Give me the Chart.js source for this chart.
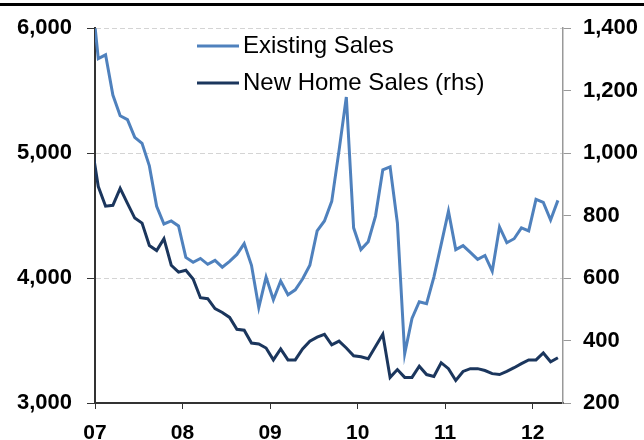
<!DOCTYPE html>
<html>
<head>
<meta charset="utf-8">
<script src="https://cdn.jsdelivr.net/npm/chart.js@4/dist/chart.umd.min.js"></script>
<style>
  html, body { margin: 0; padding: 0; background: #fff; }
  #wrap { position: relative; width: 644px; height: 440px; }
  #topRule { position: absolute; left: 0; top: 3px; width: 644px; height: 3px; background: #000; }
  canvas { position: absolute; left: 0; top: 0; }
</style>
</head>
<body>
<div id="wrap">
  <canvas id="salesChart" width="644" height="440"></canvas>
  <div id="topRule"></div>
</div>
<script>
// ---- data (monthly, starting Jan 2007) ----
const yearLabels = ["07", "08", "09", "10", "11", "12"];
const seriesNames = ["Existing Sales", "New Home Sales (rhs)"];

const existingSales = [
  6330, 5756, 5787, 5465, 5299, 5268, 5126, 5079, 4898, 4575, 4433, 4457,
  4417, 4165, 4126, 4157, 4110, 4142, 4087, 4134, 4189, 4276, 4102, 3764,
  4008, 3827, 3976, 3866, 3906, 3992, 4102, 4378, 4457, 4614, 5020, 5449,
  4402, 4228, 4291, 4496, 4866, 4890, 4441, 3394, 3677, 3811, 3795, 4008,
  4270, 4535, 4228, 4260, 4205, 4150, 4181, 4055, 4409, 4283, 4315, 4402,
  4378, 4630, 4606, 4465, 4622
];

const newHomeSales = [
  1040, 893, 830, 833, 887, 839, 792, 776, 704, 688, 726, 641,
  619, 625, 597, 537, 534, 502, 490, 474, 436, 433, 392, 389,
  376, 338, 373, 338, 338, 373, 398, 411, 420, 386, 398, 376,
  351, 348, 342, 381, 420, 282, 307, 282, 282, 318, 291, 285,
  329, 310, 272, 301, 310, 310, 304, 294, 291, 301, 313, 326,
  338, 338, 360, 332, 345
];

const FONT = "'Liberation Sans', Arial, sans-serif";
const toPoints = arr => arr.map((v, i) => ({ x: i, y: v }));

// legend drawn inside the plot, stacked vertically
const insideLegend = {
  id: "insideLegend",
  afterDraw(chart) {
    const ctx = chart.ctx;
    ctx.save();
    ctx.font = "24px " + FONT;
    ctx.textBaseline = "middle";
    ctx.fillStyle = "#000";
    chart.data.datasets.forEach((ds, i) => {
      const y = 46 + i * 37;
      ctx.strokeStyle = ds.borderColor;
      ctx.lineWidth = 3;
      ctx.beginPath();
      ctx.moveTo(197, y);
      ctx.lineTo(239, y);
      ctx.stroke();
      ctx.fillText(ds.label, 243, y);
    });
    ctx.restore();
  }
};

const ctx = document.getElementById("salesChart").getContext("2d");
new Chart(ctx, {
  type: "line",
  data: {
    datasets: [
      {
        label: seriesNames[0],
        data: toPoints(existingSales),
        borderColor: "#4f81bd",
        borderWidth: 3,
        pointRadius: 0,
        tension: 0,
        yAxisID: "y"
      },
      {
        label: seriesNames[1],
        data: toPoints(newHomeSales),
        borderColor: "#1b365d",
        borderWidth: 3,
        pointRadius: 0,
        tension: 0,
        yAxisID: "y2"
      }
    ]
  },
  options: {
    responsive: false,
    animation: false,
    layout: { padding: { top: 22, left: 0, right: 0, bottom: 0 } },
    plugins: { legend: { display: false }, tooltip: { enabled: false } },
    scales: {
      x: {
        type: "linear",
        min: 0.55,
        max: 64.7,
        afterBuildTicks: s => {
          s.ticks = yearLabels.map((_, k) => ({ value: 0.55 + 12 * k }));
        },
        afterFit: s => { s.height = 37; },
        ticks: {
          autoSkip: false,
          maxRotation: 0,
          padding: 12,
          color: "#000",
          font: { family: FONT, size: 21, weight: "bold" },
          callback: (v, i) => yearLabels[i]
        },
        grid: { drawOnChartArea: false, tickLength: 6, tickColor: "#333", color: "#333" },
        border: { color: "#333", width: 2 }
      },
      y: {
        position: "left",
        min: 3000,
        max: 6000,
        afterFit: s => { s.width = 95; },
        ticks: {
          stepSize: 1000,
          padding: 15,
          color: "#000",
          font: { family: FONT, size: 22, weight: "bold" },
          callback: v => v.toLocaleString("en-US")
        },
        grid: { color: "#d4d4d4", tickColor: "#333", tickLength: 8 },
        border: { color: "#333", width: 2, dash: [5, 3] }
      },
      y2: {
        position: "right",
        min: 200,
        max: 1400,
        afterFit: s => { s.width = 81; },
        ticks: {
          stepSize: 200,
          padding: 12,
          color: "#000",
          font: { family: FONT, size: 22, weight: "bold" },
          callback: v => v.toLocaleString("en-US")
        },
        grid: { drawOnChartArea: false, tickColor: "#999", tickLength: 8 },
        border: { color: "#999", width: 1.5 }
      }
    }
  },
  plugins: [insideLegend]
});
</script>
</body>
</html>
